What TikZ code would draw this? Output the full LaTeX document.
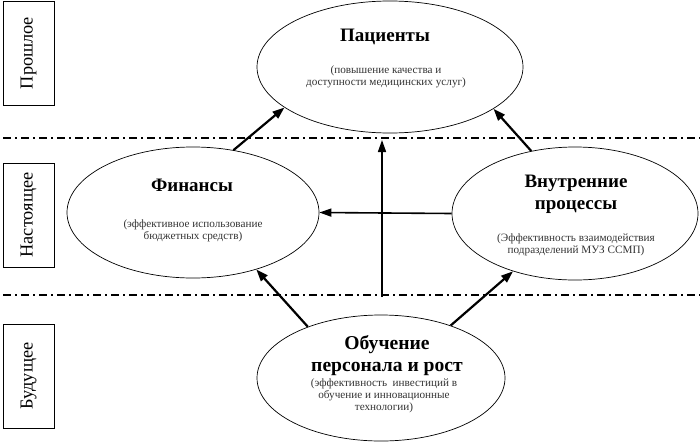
\documentclass[tikz,border=0pt]{standalone}
\usepackage{fontspec}
\setmainfont{Liberation Serif}
\usetikzlibrary{shapes.geometric,arrows.meta}
\begin{document}
\begin{tikzpicture}[x=1pt,y=-1pt,
  oval/.style={ellipse,draw,line width=0.7pt,inner sep=0pt},
  ttl/.style={font=\fontsize{19}{22}\selectfont\bfseries,align=center,inner sep=0pt},
  sub/.style={font=\fontsize{11.2}{11.8}\selectfont,align=center,inner sep=0pt,text=black!80},
  era/.style={draw,line width=0.7pt,rotate=90,minimum width=104pt,minimum height=51pt,inner sep=0pt,font=\fontsize{18.3}{20}\selectfont},
  sepline/.style={line width=1.5pt,dash pattern=on 8pt off 4pt on 2pt off 4pt},
  bigarrow/.style={line width=2.2pt,-{Triangle[length=12pt,width=8.5pt]}},
  midarrow/.style={line width=1.6pt,-{Triangle[length=12pt,width=8pt]}}
]
\useasboundingbox (0,0) rectangle (700,442);

% era boxes
\node[era] (past) at (28.5,53) {Прошлое};
\node[era] (present) at (28.5,215) {Настоящее};
\node[era] (future) at (28.5,376) {Будущее};

% separators
\coordinate (s1a) at (3,138);
\coordinate (s1b) at (700,138);
\coordinate (s2a) at (3,295);
\coordinate (s2b) at (700,295);
\draw[sepline] (s1a) -- (s1b);
\draw[sepline] (s2a) -- (s2b);

% ellipses
\node[oval,minimum width=266pt,minimum height=132pt] (pac) at (390,67) {};
\node[oval,minimum width=252pt,minimum height=131pt] (fin) at (193,212.5) {};
\node[oval,minimum width=246pt,minimum height=133pt] (vnu) at (575,213.5) {};
\node[oval,minimum width=248pt,minimum height=126pt] (obu) at (381,378) {};

% texts
\node[ttl] (pacT) at (385,37) {Пациенты};
\node[sub] (pacS) at (386,76.5) {(повышение качества и\\доступности медицинских услуг)};
\node[ttl] (finT) at (192,185) {Финансы};
\node[sub] (finS) at (193,231) {(эффективное использование\\бюджетных средств)};
\node[ttl] (vnuT) at (576,194) {Внутренние\\процессы};
\node[sub] (vnuS) at (576,244.5) {(Эффективность взаимодействия\\подразделений МУЗ ССМП)};
\node[ttl,font=\fontsize{19.6}{22}\selectfont\bfseries] (obuT) at (387,356) {Обучение\\персонала и рост};
\node[sub] (obuS) at (384,395.5) {(эффективность\ \ инвестиций в\\обучение и инновационные\\технологии)};

% connectors
\coordinate (vb) at (382,297);
\coordinate (vt) at (382,140);
\draw[bigarrow] (fin.57) -- (pac.201.7);
\draw[bigarrow] (vnu.125) -- (pac.338.8);
\draw[midarrow] (vnu.180) -- (fin.0);
\draw[midarrow] (vb) -- (vt);
\draw[bigarrow] (obu.145.2) -- (fin.318);
\draw[bigarrow] (obu.37.5) -- (vnu.223.5);
\end{tikzpicture}
\end{document}
